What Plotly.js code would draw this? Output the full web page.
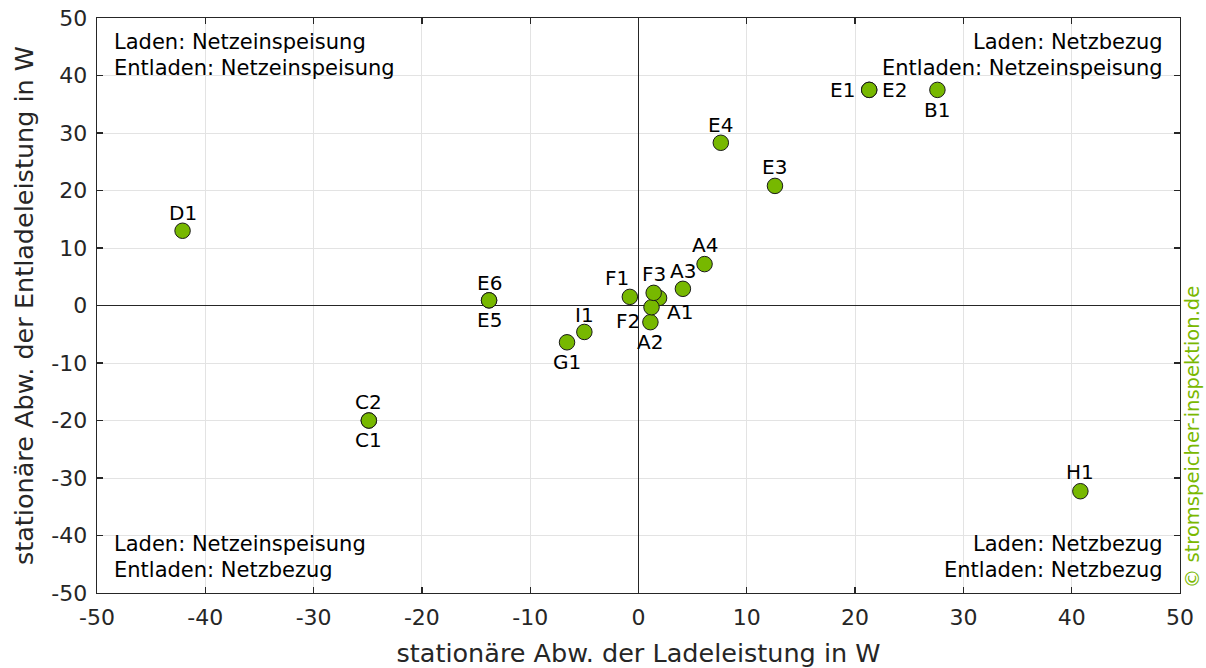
<!DOCTYPE html>
<html>
<head>
<meta charset="utf-8">
<script src="https://cdn.plot.ly/plotly-3.0.1.min.js"></script>
<style>html,body{margin:0;padding:0;background:#fff;}#chart{width:1206px;height:668px;}</style>
</head>
<body>
<div id="chart"></div>
<script>
// Data
const labels = ["A1","A2","A3","A4","B1","C1","C2","D1","E1","E2","E3","E4","E5","E6","F1","F2","F3","G1","H1","I1"];
const ladeAbw = [1.9, 1.1, 4.1, 6.1, 27.6, -24.9, -24.9, -42.1, 21.3, 21.3, 12.6, 7.6, -13.8, -13.8, -0.8, 1.2, 1.4, -6.6, 40.8, -5.0];
const entladeAbw = [1.3, -2.9, 2.9, 7.2, 37.5, -20.0, -20.0, 13.0, 37.5, 37.5, 20.8, 28.3, 0.9, 0.9, 1.5, -0.3, 2.2, -6.4, -32.3, -4.6];
const tickValues = [-50, -40, -30, -20, -10, 0, 10, 20, 30, 40, 50];
const tickLabels = ["-50", "-40", "-30", "-20", "-10", "0", "10", "20", "30", "40", "50"];

// label offsets in pixels (style)
const labelDx = [21, 0, 0, 0, 0, 0, 0, 0, -27, 25, 0, 0, 0, 0, -13, -24, 0, 0, 0, 0];
const labelDy = [-14, -20, 18, 19, -20, -19, 19, 18, 0, 0, 19, 18, -20, 17, 19, -14, 19, -20, 19, 17];

const quadrantTexts = [
  {lines: ["Laden: Netzeinspeisung", "Entladen: Netzeinspeisung"], pos: "tl"},
  {lines: ["Laden: Netzbezug", "Entladen: Netzeinspeisung"], pos: "tr"},
  {lines: ["Laden: Netzeinspeisung", "Entladen: Netzbezug"], pos: "bl"},
  {lines: ["Laden: Netzbezug", "Entladen: Netzbezug"], pos: "br"}
];

const FONT = "Verdana, DejaVu Sans, sans-serif";
const TXT = "#262626";

const trace = {
  type: "scatter",
  mode: "markers",
  x: ladeAbw,
  y: entladeAbw,
  marker: {size: 15.5, color: "#77b800", line: {color: "#1a1a1a", width: 1}},
  hoverinfo: "text",
  text: labels
};

const annotations = [];
labels.forEach((l, i) => {
  annotations.push({
    xref: "x", yref: "y", x: ladeAbw[i], y: entladeAbw[i],
    text: l, showarrow: false,
    xshift: labelDx[i], yshift: labelDy[i],
    xanchor: "center", yanchor: "middle",
    font: {family: FONT, size: 20, color: "#000"}
  });
});

const plotH = 575;
quadrantTexts.forEach(q => {
  const left = q.pos[1] === "l";
  const top = q.pos[0] === "t";
  q.lines.forEach((line, j) => {
    const pxFromTop = top ? 24 + j * 26 : 526 + j * 26;
    annotations.push({
      xref: "paper", yref: "paper",
      x: left ? 0 : 1, y: 1 - pxFromTop / plotH,
      xshift: left ? 15 : -15,
      xanchor: left ? "left" : "right", yanchor: "middle",
      text: line, showarrow: false,
      font: {family: FONT, size: 21, color: "#000"}
    });
  });
});

annotations.push({
  xref: "paper", yref: "paper", x: 1, y: 0.271, xshift: 12,
  xanchor: "center", yanchor: "middle", textangle: -90,
  text: "© stromspeicher-inspektion.de", showarrow: false,
  font: {family: FONT, size: 19.5, color: "#7ab800"}
});

const axisCommon = {
  range: [-50, 50], tickmode: "array", tickvals: tickValues, ticktext: tickLabels,
  showgrid: true, gridcolor: "#e3e3e3", gridwidth: 1,
  zeroline: true, zerolinecolor: "#262626", zerolinewidth: 1,
  showline: true, linecolor: "#262626", linewidth: 1.3, mirror: "ticks",
  ticks: "inside", ticklen: 6, tickcolor: "#262626", tickwidth: 1.3,
  ticklabelstandoff: 4,
  tickfont: {family: FONT, size: 22, color: TXT},
  fixedrange: true
};

const layout = {
  width: 1206, height: 668,
  margin: {l: 97, r: 26, t: 18, b: 75},
  paper_bgcolor: "#fff", plot_bgcolor: "#fff",
  showlegend: false,
  xaxis: Object.assign({}, axisCommon, {
    title: {text: "stationäre Abw. der Ladeleistung in W", font: {family: FONT, size: 25.5, color: TXT}, standoff: 16}
  }),
  yaxis: Object.assign({}, axisCommon, {
    title: {text: "stationäre Abw. der Entladeleistung in W", font: {family: FONT, size: 25.5, color: TXT}, standoff: 10}
  }),
  annotations: annotations
};

Plotly.newPlot("chart", [trace], layout, {displayModeBar: false, staticPlot: true});
</script>
</body>
</html>
